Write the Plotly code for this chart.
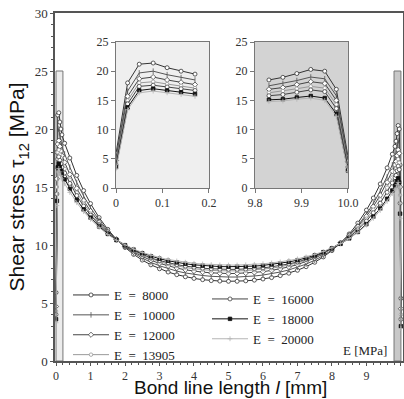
import plotly.graph_objects as go

# bond line position [mm]
x_pos = [0, 0.025, 0.05, 0.08, 0.11, 0.14, 0.17, 0.25, 0.4, 0.6, 0.8, 1.0, 1.25, 1.5, 1.75,
         2.0, 2.25, 2.5, 2.75, 3.0, 3.25, 3.5, 3.75, 4.0, 4.25, 4.5, 4.75, 5.0, 5.25, 5.5,
         5.75, 6.0, 6.25, 6.5, 6.75, 7.0, 7.25, 7.5, 7.75, 8.0, 8.25, 8.5, 8.75, 9.0, 9.2,
         9.4, 9.6, 9.75, 9.83, 9.86, 9.89, 9.92, 9.95, 9.975, 10.0]

E_labels = ["E\u2002=\u20028000", "E\u2002=\u200210000", "E\u2002=\u200212000", "E\u2002=\u200213905",
            "E\u2002=\u200216000", "E\u2002=\u200218000", "E\u2002=\u200220000"]

tau_8000 = [5.9, 18.0, 21.2, 21.4, 20.6, 20.0, 19.5,
            18.77, 17.50, 16.00, 14.69, 13.57, 12.36, 11.35, 10.50, 9.79, 9.19, 8.70, 8.29, 7.95,
            7.67, 7.44, 7.26, 7.12, 7.01, 6.93, 6.89, 6.87,
            6.87, 6.91, 6.97, 7.07, 7.19, 7.36, 7.57, 7.82, 8.13, 8.51, 8.97, 9.52, 10.17, 10.95,
            11.89, 13.01, 14.05, 15.26, 16.65, 17.83,
            18.5, 18.95, 19.6, 20.3, 20.0, 16.9, 5.4]
tau_10000 = [5.2, 16.6, 19.7, 20.0, 19.4, 18.9, 18.5,
             17.85, 16.71, 15.39, 14.22, 13.21, 12.14, 11.23, 10.48, 9.85, 9.31, 8.88, 8.50, 8.21,
             7.96, 7.75, 7.59, 7.46, 7.37, 7.30, 7.25, 7.24,
             7.24, 7.27, 7.33, 7.41, 7.52, 7.67, 7.85, 8.08, 8.35, 8.69, 9.09, 9.57, 10.15, 10.84,
             11.67, 12.66, 13.58, 14.65, 15.87, 16.91,
             17.5, 17.9, 18.4, 19.0, 18.7, 15.8, 4.9]
tau_12000 = [4.7, 15.7, 18.7, 19.0, 18.5, 18.1, 17.7,
             17.12, 16.09, 14.89, 13.84, 12.93, 11.96, 11.14, 10.47, 9.89, 9.41, 9.02, 8.68, 8.42,
             8.19, 8.01, 7.86, 7.75, 7.66, 7.60, 7.56, 7.54,
             7.55, 7.58, 7.63, 7.70, 7.81, 7.94, 8.11, 8.31, 8.56, 8.87, 9.23, 9.68, 10.20, 10.83,
             11.59, 12.48, 13.32, 14.30, 15.41, 16.36,
             16.9, 17.2, 17.7, 18.2, 17.9, 15.0, 4.5]
tau_13905 = [4.3, 15.0, 18.0, 18.2, 17.8, 17.5, 17.1,
             16.57, 15.62, 14.51, 13.55, 12.71, 11.82, 11.08, 10.45, 9.93, 9.48, 9.12, 8.81, 8.57,
             8.36, 8.19, 8.06, 7.95, 7.87, 7.81, 7.78, 7.76,
             7.77, 7.79, 7.84, 7.91, 8.00, 8.12, 8.28, 8.46, 8.69, 8.97, 9.30, 9.71, 10.19, 10.76,
             11.46, 12.27, 13.04, 13.93, 14.94, 15.81,
             16.3, 16.6, 17.0, 17.4, 17.1, 14.3, 4.0]
tau_16000 = [4.0, 14.4, 17.4, 17.6, 17.3, 17.0, 16.7,
             16.20, 15.31, 14.26, 13.36, 12.57, 11.73, 11.02, 10.44, 9.94, 9.53, 9.18, 8.89, 8.66,
             8.47, 8.31, 8.18, 8.08, 8.00, 7.95, 7.91, 7.90,
             7.90, 7.93, 7.97, 8.03, 8.12, 8.23, 8.37, 8.54, 8.75, 9.01, 9.32, 9.70, 10.14, 10.67,
             11.31, 12.07, 12.78, 13.60, 14.54, 15.35,
             15.8, 16.0, 16.4, 16.8, 16.5, 13.6, 3.6]
tau_18000 = [3.6, 13.8, 16.7, 17.0, 16.7, 16.4, 16.1,
             15.65, 14.84, 13.89, 13.07, 12.36, 11.60, 10.96, 10.43, 9.98, 9.60, 9.29, 9.03, 8.82,
             8.64, 8.50, 8.38, 8.29, 8.22, 8.17, 8.14, 8.13,
             8.13, 8.15, 8.18, 8.24, 8.32, 8.41, 8.54, 8.69, 8.87, 9.10, 9.38, 9.71, 10.10, 10.57,
             11.13, 11.80, 12.44, 13.15, 13.99, 14.70,
             15.1, 15.2, 15.5, 15.75, 15.4, 12.7, 3.0]
tau_20000 = [3.3, 13.4, 16.3, 16.6, 16.3, 16.0, 15.7,
             15.28, 14.53, 13.65, 12.88, 12.22, 11.51, 10.91, 10.41, 10.00, 9.65, 9.36, 9.11, 8.92,
             8.75, 8.62, 8.51, 8.42, 8.36, 8.31, 8.28, 8.27,
             8.27, 8.29, 8.33, 8.38, 8.45, 8.54, 8.66, 8.80, 8.97, 9.19, 9.44, 9.75, 10.12, 10.56,
             11.09, 11.72, 12.30, 12.98, 13.76, 14.43,
             14.8, 14.9, 15.2, 15.4, 15.0, 12.3, 2.8]

x_ticks_main = [0, 1, 2, 3, 4, 5, 6, 7, 8, 9, 10]
y_ticks = [0, 5, 10, 15, 20, 25, 30]
inset_y_ticks = [0, 5, 10, 15, 20, 25]
inset1_ticks = [0, 0.1, 0.2]
inset1_ticktext = ["0", "0.1", "0.2"]
inset2_ticks = [9.8, 9.9, 10.0]
inset2_ticktext = ["9.8", "9.9", "10.0"]

all_tau = [tau_8000, tau_10000, tau_12000, tau_13905, tau_16000, tau_18000, tau_20000]

styles = [
    dict(lc="#333333", sym="circle", fill="white", mline="#333333", size=4),
    dict(lc="#555555", sym="line-ns-open", fill="#555555", mline="#555555", size=4),
    dict(lc="#444444", sym="diamond", fill="white", mline="#444444", size=4),
    dict(lc="#999999", sym="circle", fill="white", mline="#999999", size=3.5),
    dict(lc="#444444", sym="circle", fill="white", mline="#444444", size=4),
    dict(lc="#111111", sym="square", fill="#111111", mline="#111111", size=3.5),
    dict(lc="#b5b5b5", sym="cross-thin-open", fill="#b5b5b5", mline="#b5b5b5", size=3.5),
]

SERIF = "Liberation Serif"
SANS = "Liberation Sans"

fig = go.Figure()

n_left = 7
for i, (tau, st, lab) in enumerate(zip(all_tau, styles, E_labels)):
    marker = dict(symbol=st["sym"], size=st["size"], color=st["fill"],
                  line=dict(color=st["mline"], width=0.8))
    line = dict(color=st["lc"], width=1)
    fig.add_trace(go.Scatter(x=x_pos, y=tau, mode="lines+markers", name=lab,
                             line=line, marker=marker, xaxis="x", yaxis="y",
                             legend="legend" if i < 4 else "legend2"))
    fig.add_trace(go.Scatter(x=x_pos[:n_left], y=tau[:n_left], mode="lines+markers",
                             line=line, marker=marker, xaxis="x2", yaxis="y2", showlegend=False))
    fig.add_trace(go.Scatter(x=x_pos[-n_left:], y=tau[-n_left:], mode="lines+markers",
                             line=line, marker=marker, xaxis="x3", yaxis="y3", showlegend=False))

W, H = 404, 399
def px(v):
    return v / W
def py(v):
    return (H - v) / H

axis_common = dict(showline=True, linecolor="#555555", linewidth=1.5, mirror=True,
                   showgrid=False, zeroline=False, ticks="outside", ticklen=3,
                   tickcolor="#555555", automargin=False)
inset_common = dict(showline=True, linecolor="#777777", linewidth=1, mirror=True,
                    showgrid=False, zeroline=False, ticks="outside", ticklen=4,
                    tickcolor="#777777", tickfont=dict(family=SERIF, size=12, color="#333333"),
                    automargin=False)

fig.update_layout(
    width=W, height=H,
    margin=dict(l=0, r=0, t=0, b=0, autoexpand=False),
    paper_bgcolor="white", plot_bgcolor="white",
    xaxis=dict(domain=[px(55), px(403)], range=[-0.03, 10.06], tickvals=x_ticks_main,
               minor=dict(dtick=0.2, ticklen=2, ticks="outside", tickcolor="#555555"),
               tickfont=dict(family=SERIF, size=12, color="#333333"),
               anchor="y", **axis_common),
    yaxis=dict(domain=[py(361), py(13)], range=[0, 30], tickvals=y_ticks,
               minor=dict(dtick=1, ticklen=2, ticks="outside", tickcolor="#555555"),
               tickfont=dict(family=SERIF, size=13, color="#333333"),
               title=dict(text="Shear stress τ<sub>12</sub> [MPa]",
                          font=dict(family=SANS, size=21, color="#111111"), standoff=4),
               anchor="x", **axis_common),
    xaxis2=dict(domain=[px(116), px(209)], range=[0, 0.2001], tickvals=inset1_ticks,
                ticktext=inset1_ticktext, anchor="y2", **inset_common),
    yaxis2=dict(domain=[py(188), py(42)], range=[0, 25], tickvals=inset_y_ticks,
                anchor="x2", **inset_common),
    xaxis3=dict(domain=[px(255), px(348)], range=[9.8, 10.0001], tickvals=inset2_ticks,
                ticktext=inset2_ticktext, anchor="y3", **inset_common),
    yaxis3=dict(domain=[py(188), py(42)], range=[0, 25], tickvals=inset_y_ticks,
                anchor="x3", **inset_common),
    legend=dict(x=px(68), y=py(280), xanchor="left", yanchor="top", itemwidth=36,
                bgcolor="rgba(0,0,0,0)", font=dict(family=SERIF, size=13, color="#222222"),
                tracegroupgap=0),
    legend2=dict(x=px(207), y=py(284), xanchor="left", yanchor="top", itemwidth=36,
                 bgcolor="rgba(0,0,0,0)", font=dict(family=SERIF, size=13, color="#222222"),
                 tracegroupgap=0),
    showlegend=True,
)

# x axis title
fig.add_annotation(text="Bond line length <i>l</i> [mm]", xref="paper", yref="paper",
                   x=px(231), y=0, xanchor="center", yanchor="bottom", showarrow=False,
                   font=dict(family=SANS, size=19, color="#111111"), borderpad=0)

# shaded regions corresponding to the insets
fig.add_shape(type="rect", xref="x", yref="y", x0=0, x1=0.2, y0=0, y1=25,
              fillcolor="#ececec", line=dict(color="#777777", width=1), layer="below")
fig.add_shape(type="rect", xref="x", yref="y", x0=9.8, x1=10.0, y0=0, y1=25,
              fillcolor="#c8c8c8", line=dict(color="#777777", width=1), layer="below")
# inset backgrounds
fig.add_shape(type="rect", xref="x2", yref="y2", x0=0, x1=0.2, y0=0, y1=25,
              fillcolor="#efefef", line=dict(width=0), layer="below")
fig.add_shape(type="rect", xref="x3", yref="y3", x0=9.8, x1=10.0, y0=0, y1=25,
              fillcolor="#d3d3d3", line=dict(width=0), layer="below")

fig.add_annotation(text="E [MPa]", xref="paper", yref="paper", x=px(389), y=py(350),
                   xanchor="right", yanchor="middle", showarrow=False,
                   font=dict(family=SERIF, size=13, color="#222222"))

fig.write_html("out.html", config={"displayModeBar": False},
               post_script="document.body.style.margin='0';document.body.style.padding='0';")
